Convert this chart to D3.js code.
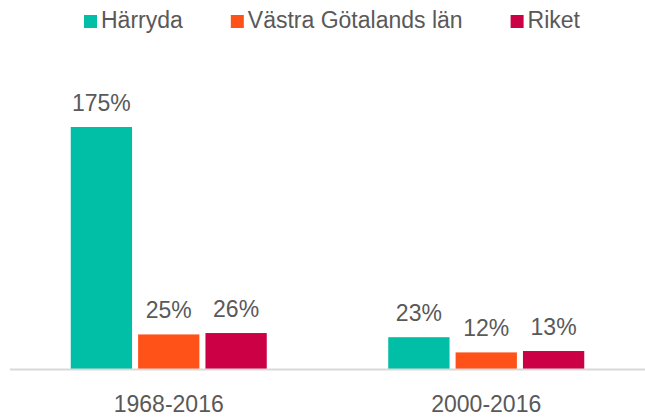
<!DOCTYPE html>
<html>
<head>
<meta charset="utf-8">
<script src="https://cdn.jsdelivr.net/npm/d3@7"></script>
<style>
  body { margin: 0; background: #fff; }
  text { font-family: "Liberation Sans", Arial, sans-serif; fill: #595959; }
</style>
</head>
<body>
<svg id="chart" width="645" height="418"></svg>
<script>
const categories = ["1968-2016", "2000-2016"];
const seriesNames = ["Härryda", "Västra Götalands län", "Riket"];
const seriesColors = ["#00BFA6", "#FF5218", "#CC0044"];
const harryda = [175, 23];
const vastraGotaland = [25, 12];
const riket = [26, 13];

const values = [harryda, vastraGotaland, riket];
const svg = d3.select("#chart");
const fontSize = 23;

const axisY = 369;
const x0 = d3.scaleBand().domain(categories).range([10, 645]);
const x1 = d3.scaleBand().domain(seriesNames).range([0, 196]).paddingInner(0.09);
const y = d3.scaleLinear().domain([0, 175]).range([axisY, 127]);

const groups = svg.selectAll("g.cat")
  .data(categories)
  .enter().append("g")
  .attr("class", "cat")
  .attr("transform", d => `translate(${x0(d) + x0.bandwidth() / 2 - 98},0)`);

groups.each(function(cat, ci) {
  const g = d3.select(this);
  seriesNames.forEach((s, si) => {
    const v = values[si][ci];
    g.append("rect")
      .attr("x", x1(s))
      .attr("y", y(v))
      .attr("width", x1.bandwidth())
      .attr("height", axisY - y(v))
      .attr("fill", seriesColors[si]);
    g.append("text")
      .attr("x", x1(s) + x1.bandwidth() / 2)
      .attr("y", y(v) - 16)
      .attr("text-anchor", "middle")
      .attr("font-size", fontSize)
      .text(v + "%");
  });
});

// axis line
svg.append("line")
  .attr("x1", 10).attr("x2", 645)
  .attr("y1", axisY + 0.5).attr("y2", axisY + 0.5)
  .attr("stroke", "#D9D9D9").attr("stroke-width", 2);

svg.selectAll("text.cat-label")
  .data(categories)
  .enter().append("text")
  .attr("class", "cat-label")
  .attr("x", d => x0(d) + x0.bandwidth() / 2)
  .attr("y", 412)
  .attr("text-anchor", "middle")
  .attr("font-size", fontSize)
  .text(d => d);

// legend
const legend = svg.append("g").attr("transform", "translate(84,0)");
let lx = 0;
seriesNames.forEach((s, i) => {
  const item = legend.append("g").attr("transform", `translate(${lx},0)`);
  item.append("rect")
    .attr("x", 0).attr("y", 15).attr("width", 13).attr("height", 13)
    .attr("fill", seriesColors[i]);
  const t = item.append("text")
    .attr("x", 17).attr("y", 28)
    .attr("font-size", fontSize)
    .text(s);
  lx += 17 + t.node().getComputedTextLength() + 48;
});
</script>
</body>
</html>
